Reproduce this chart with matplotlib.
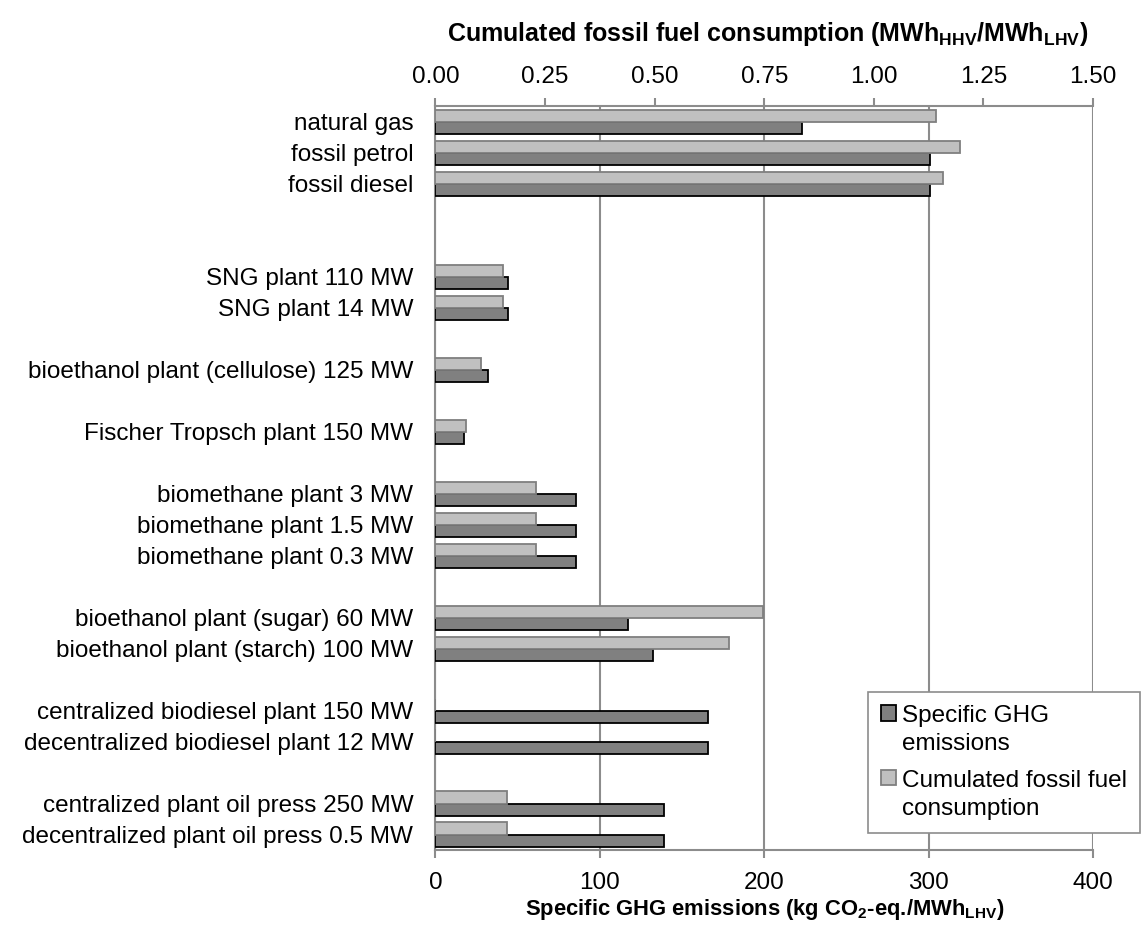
import matplotlib
matplotlib.use("Agg")
import matplotlib.pyplot as plt
import numpy as np

plt.rcParams['font.family'] = ['Liberation Sans', 'DejaVu Sans']
plt.rcParams['mathtext.fontset'] = 'custom'
plt.rcParams['mathtext.rm'] = 'Liberation Sans:bold'
plt.rcParams['mathtext.bf'] = 'Liberation Sans:bold'

# categories (empty strings = spacer rows)
labels = ['natural gas', 'fossil petrol', 'fossil diesel', '', '',
          'SNG plant 110 MW', 'SNG plant 14 MW', '',
          'bioethanol plant (cellulose) 125 MW', '',
          'Fischer Tropsch plant 150 MW', '',
          'biomethane plant 3 MW', 'biomethane plant 1.5 MW', 'biomethane plant 0.3 MW', '',
          'bioethanol plant (sugar) 60 MW', 'bioethanol plant (starch) 100 MW', '',
          'centralized biodiesel plant 150 MW', 'decentralized biodiesel plant 12 MW', '',
          'centralized plant oil press 250 MW', 'decentralized plant oil press 0.5 MW']

nan = np.nan
# specific GHG emissions (kg CO2-eq./MWh_LHV), bottom axis
ghg = [223, 301, 301, nan, nan,
       44.3, 44.3, nan,
       32.2, nan,
       17.2, nan,
       85.7, 85.7, 85.7, nan,
       117.4, 132.6, nan,
       165.9, 165.5, nan,
       139.1, 139.1]
# cumulated fossil fuel consumption (MWh_HHV/MWh_LHV), top axis
fossil = [1.143, 1.196, 1.158, nan, nan,
          0.153, 0.153, nan,
          0.104, nan,
          0.070, nan,
          0.229, 0.229, 0.229, nan,
          0.748, 0.670, nan,
          0, 0, nan,
          0.164, 0.164]

dark = '#808080'
light = '#c0c0c0'
grid_col = '#8c8c8c'
fs = 17.5

fig = plt.figure(figsize=(11.46, 9.35), dpi=100)
ax = fig.add_axes([0.380, 0.0909, 0.5737, 0.7952])
ax2 = ax.twiny()

y = np.arange(len(labels))
h = 0.39

b1 = ax.barh(y + h / 2, ghg, height=h, color=dark, edgecolor='black', linewidth=1.3, zorder=3)
b2 = ax2.barh(y - h / 2, fossil, height=h, color=light, edgecolor='#7f7f7f', linewidth=1.3, zorder=3)

ax.set_xlim(0, 400)
ax2.set_xlim(0, 1.5)
ax.set_ylim(len(labels) - 0.5, -0.5)

ax.set_xticks([0, 100, 200, 300, 400])
ax2.set_xticks([0, 0.25, 0.5, 0.75, 1.0, 1.25, 1.5])
ax2.set_xticklabels(['%.2f' % v for v in [0, 0.25, 0.5, 0.75, 1.0, 1.25, 1.5]])
ax.set_yticks(y)
ax.set_yticklabels(labels)

ax.xaxis.grid(True, color=grid_col, linewidth=1.5, zorder=0)
ax.set_axisbelow(True)

for s in ['top', 'right']:
    ax.spines[s].set_visible(False)
for s in ['left', 'bottom']:
    ax.spines[s].set_color(grid_col)
    ax.spines[s].set_linewidth(1.5)
for s in ['bottom', 'left', 'right']:
    ax2.spines[s].set_visible(False)
ax2.spines['top'].set_color(grid_col)
ax2.spines['top'].set_linewidth(1.5)

ax.tick_params(axis='x', direction='out', length=6, width=1.5, color=grid_col,
               labelsize=fs, pad=10)
ax.tick_params(axis='y', length=0, labelsize=fs, pad=16)
ax2.tick_params(axis='x', direction='out', length=6, width=1.5, color=grid_col,
                labelsize=fs, pad=7)

fig.text(0.667, 1 - 909 / 935, r'Specific GHG emissions (kg CO$_2$-eq./MWh$_{\mathrm{LHV}}$)',
         ha='center', va='center', fontsize=15.8, fontweight='bold')
fig.text(0.670, 1 - 34 / 935, r'Cumulated fossil fuel consumption (MWh$_{\mathrm{HHV}}$/MWh$_{\mathrm{LHV}}$)',
         ha='center', va='center', fontsize=18, fontweight='bold')

leg = fig.legend([b1, b2], ['Specific GHG\nemissions', 'Cumulated fossil fuel\nconsumption'],
                 loc='upper left', bbox_to_anchor=(868 / 1146, 1 - 692 / 935),
                 fontsize=fs, frameon=True, fancybox=False, framealpha=1,
                 edgecolor=grid_col, handlelength=0.6, handleheight=0.6,
                 handletextpad=0.25, labelspacing=0.6, borderpad=0.55,
                 borderaxespad=0)
leg.get_frame().set_linewidth(1.2)
for t in leg.get_texts():
    t.set_linespacing(1.35)
# put the square next to the first line of each label
for col in leg._legend_handle_box.get_children():
    for row in col.get_children():
        row.align = 'top'

fig.savefig('out.png', dpi=100)
